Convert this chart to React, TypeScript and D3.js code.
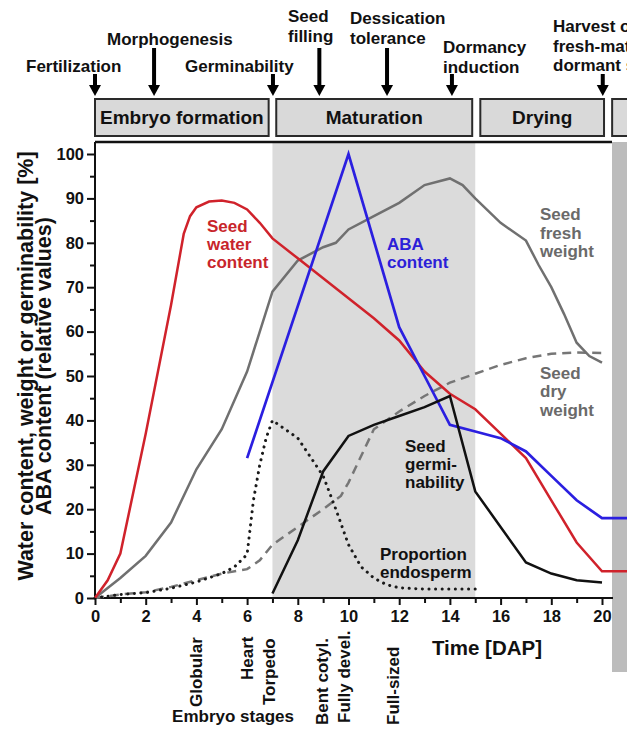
import React, { useEffect, useRef } from "react";
import * as d3 from "d3";

// values: [day after pollination, value]
const waterContent: [number, number][] = [[0,0],[0.5,4],[1,10],[2,37],[3,66],[3.5,82],[3.75,86],[4,88],[4.5,89.3],[5,89.5],[5.5,89],[6,87.5],[6.5,84.5],[7,81],[8,76.5],[9,72],[10,67.5],[11,63],[12,58],[13,51],[14,46],[15,42.5],[16,37],[17,31.5],[18,22],[19,12.5],[20,6],[21,6]];
const freshWeight: [number, number][] = [[0,0],[1,4.5],[2,9.5],[3,17],[4,29],[5,38],[6,51],[7,69],[8,76],[9,79],[9.5,80],[10,83],[11,86],[12,89],[13,93],[14,94.5],[14.5,93],[15,90],[16,84.5],[17,80.5],[17.5,75],[18,70],[18.5,64],[19,57.5],[19.5,54.5],[20,53]];
const dryWeight: [number, number][] = [[0,0],[1,0.8],[2,1.3],[3,2.5],[4,4],[5,5.5],[6,6.5],[6.5,8.5],[7,12],[8,16],[9,20],[9.7,23],[10,26],[11,38],[12,42],[13,45.5],[14,48.5],[15,50.5],[16,52.5],[17,54],[18,55],[19,55.3],[20,55.2]];
const abaContent: [number, number][] = [[6,31.5],[10,100],[12,61],[13,50],[14,39],[15,37.5],[16,36],[17,33],[18,27.5],[19,22],[20,18],[21,18]];
const germinability: [number, number][] = [[7,1],[8,13],[9,28.5],[10,36.5],[11,39],[12,41],[13,43],[14,45.5],[15,24],[16,16],[17,8],[18,5.5],[19,4],[20,3.5]];
const endosperm: [number, number][] = [[0,0],[1,0.8],[2,1.2],[3,2.2],[4,3.6],[5,5.5],[5.5,7],[6,9.8],[6.25,22],[6.5,30],[6.75,36],[7,40],[8,36],[9,27.5],[9.5,20],[10,12],[10.5,7],[11,4.5],[11.5,3],[12,2.3],[13,2],[14,2],[15,2]];

// developmental phases (days)
const phaseNames = ["Embryo formation", "Maturation", "Drying", ""];
const phaseStart = [0, 7.15, 15.2, 20.4];
const phaseEnd = [6.85, 14.88, 20.08, 22];

// events above the phases
const eventLines = [["Fertilization"], ["Morphogenesis"], ["Germinability"], ["Seed", "filling"], ["Dessication", "tolerance"], ["Dormancy", "induction"], ["Harvest of", "fresh-mature", "dormant seeds"]];
const eventDay = [0, 2.33, 7.02, 8.85, 11.52, 14.08, 20.03];

// embryo stages under the time axis
const stageNames = ["Globular", "Heart", "Torpedo", "Bent cotyl.", "Fully devel.", "Full-sized"];
const stageDay = [4.0, 6.0, 6.85, 8.95, 9.82, 11.75];

const xTicks = d3.range(0, 21, 2);
const xMinor = d3.range(1, 20, 2);
const yTicks = d3.range(0, 101, 10);
const yMinor = d3.range(5, 100, 10);

const FONT = "'Liberation Sans', Arial, Helvetica, sans-serif";

export default function App() {
  const xAxisRef = useRef<SVGGElement>(null);
  const yAxisRef = useRef<SVGGElement>(null);

  const x = d3.scaleLinear().domain([0, 20]).range([95, 602]);
  const y = d3.scaleLinear().domain([0, 100]).range([598, 154]);
  const top = 142;
  const right = 612;

  const line = d3.line<[number, number]>().x(d => x(d[0])).y(d => y(d[1]));

  useEffect(() => {
    const gx = d3.select(xAxisRef.current);
    gx.selectAll("*").remove();
    gx.append("g").call(d3.axisBottom(x).tickValues(xTicks).tickSize(7).tickPadding(5).tickFormat(d3.format("d")));
    gx.append("g").call(d3.axisBottom(x).tickValues(xMinor).tickSize(5).tickFormat(() => ""));
    gx.selectAll(".domain").remove();
    gx.selectAll("line").attr("stroke", "#111").attr("stroke-width", 2);
    gx.selectAll("text").attr("font-size", 16.5).attr("font-weight", "bold").attr("font-family", FONT).attr("fill", "#111");

    const gy = d3.select(yAxisRef.current);
    gy.selectAll("*").remove();
    gy.append("g").call(d3.axisLeft(y).tickValues(yTicks).tickSize(8).tickPadding(3));
    gy.append("g").call(d3.axisLeft(y).tickValues(yMinor).tickSize(5).tickFormat(() => ""));
    gy.selectAll(".domain").remove();
    gy.selectAll("line").attr("stroke", "#111").attr("stroke-width", 2);
    gy.selectAll("text").attr("font-size", 16.5).attr("font-weight", "bold").attr("font-family", FONT).attr("fill", "#111");
  }, []);

  const arrow = (cx: number, y0: number, y1: number, key: string) => (
    <g key={key}>
      <line x1={cx} x2={cx} y1={y0} y2={y1 - 8} stroke="#000" strokeWidth={4} />
      <path d={`M${cx - 6},${y1 - 11}L${cx + 6},${y1 - 11}L${cx},${y1}Z`} fill="#000" />
    </g>
  );

  // text anchor positions for the event labels
  const eventPos = [
    { x: 26, y: 72 }, { x: 107, y: 45 }, { x: 185, y: 72 },
    { x: 288, y: 22 }, { x: 350, y: 24 }, { x: 443, y: 53 }, { x: 553, y: 32 },
  ];
  const longArrow = [false, true, false, true, true, false, false];

  return (
    <svg width={627} height={731} style={{ position: "absolute", left: 0, top: 0, background: "#fff" }} fontFamily={FONT} fontWeight="bold">
      {/* shaded periods */}
      <rect x={x(7)} y={top} width={x(15) - x(7)} height={y(0) - top} fill="#dbdbdb" />
      <rect x={right} y={top} width={30} height={672 - top} fill="#bcbcbc" />

      {/* phase boxes */}
      {phaseNames.map((n, i) => (
        <g key={"ph" + i}>
          <rect x={x(phaseStart[i])} y={99} width={x(phaseEnd[i]) - x(phaseStart[i])} height={37} fill="#d9d9d9" stroke="#2a2a2a" strokeWidth={2} />
          <text x={(x(phaseStart[i]) + x(phaseEnd[i])) / 2} y={124} textAnchor="middle" fontSize={19} fill="#111">{n}</text>
        </g>
      ))}

      {/* events */}
      {eventLines.map((ls, i) => (
        <g key={"ev" + i}>
          <text x={eventPos[i].x} y={eventPos[i].y} fontSize={17} fill="#111">
            {ls.map((l, j) => <tspan key={j} x={eventPos[i].x} dy={j === 0 ? 0 : 19.5}>{l}</tspan>)}
          </text>
          {arrow(x(eventDay[i]), longArrow[i] ? 48 : 74, 96, "ar" + i)}
        </g>
      ))}

      {/* frame */}
      <line x1={x(0)} x2={right} y1={top} y2={top} stroke="#111" strokeWidth={2.5} />
      <line x1={x(0)} x2={x(0)} y1={top} y2={y(0)} stroke="#111" strokeWidth={2} />
      <line x1={x(0)} x2={right + 1} y1={y(0)} y2={y(0)} stroke="#111" strokeWidth={2} />

      {/* series */}
      <path d={line(dryWeight) ?? ""} fill="none" stroke="#767676" strokeWidth={2.5} strokeDasharray="9,6" />
      <path d={line(endosperm) ?? ""} fill="none" stroke="#1a1a1a" strokeWidth={3} strokeDasharray="0.1,6.5" strokeLinecap="round" />
      <path d={line(freshWeight) ?? ""} fill="none" stroke="#707070" strokeWidth={2.5} />
      <path d={line(waterContent) ?? ""} fill="none" stroke="#d0222b" strokeWidth={2.5} />
      <path d={line(abaContent) ?? ""} fill="none" stroke="#2b1fe0" strokeWidth={2.7} />
      <path d={line(germinability) ?? ""} fill="none" stroke="#111" strokeWidth={2.5} />

      {/* axes */}
      <g ref={xAxisRef} transform={`translate(0,${y(0)})`} />
      <g ref={yAxisRef} transform={`translate(${x(0)},0)`} />

      {/* series labels */}
      <text fontSize={17} fill="#c8252b">
        <tspan x={207} y={232}>Seed</tspan><tspan x={207} y={250}>water</tspan><tspan x={207} y={268}>content</tspan>
      </text>
      <text fontSize={17} fill="#2c20d8">
        <tspan x={387} y={250}>ABA</tspan><tspan x={387} y={268}>content</tspan>
      </text>
      <text fontSize={17} fill="#6a6a6a">
        <tspan x={540} y={220}>Seed</tspan><tspan x={540} y={239}>fresh</tspan><tspan x={540} y={257}>weight</tspan>
      </text>
      <text fontSize={17} fill="#6a6a6a">
        <tspan x={540} y={379}>Seed</tspan><tspan x={540} y={397}>dry</tspan><tspan x={540} y={416}>weight</tspan>
      </text>
      <text fontSize={17} fill="#111">
        <tspan x={405} y={452}>Seed</tspan><tspan x={405} y={470}>germi-</tspan><tspan x={405} y={488}>nability</tspan>
      </text>
      <text fontSize={17} fill="#111">
        <tspan x={380} y={560}>Proportion</tspan><tspan x={380} y={578}>endosperm</tspan>
      </text>

      {/* axis titles */}
      <g transform="translate(0,366) rotate(-90)">
        <text x={0} y={33} textAnchor="middle" fontSize={21.5} fill="#111">Water content, weight or germinability [%]</text>
        <text x={0} y={51} textAnchor="middle" fontSize={21.5} fill="#111">ABA content (relative values)</text>
      </g>
      <text x={487} y={655} textAnchor="middle" fontSize={20.5} fill="#111">Time [DAP]</text>

      {/* embryo stages */}
      {stageNames.map((s, i) => {
        const bottoms = [707, 680, 705, 725, 723, 725];
        return (
          <text key={"st" + i} transform={`translate(${x(stageDay[i]) + 6},${bottoms[i]}) rotate(-90)`} fontSize={17} fill="#111">{s}</text>
        );
      })}
      <text x={233} y={722} textAnchor="middle" fontSize={17} fill="#111">Embryo stages</text>
    </svg>
  );
}
